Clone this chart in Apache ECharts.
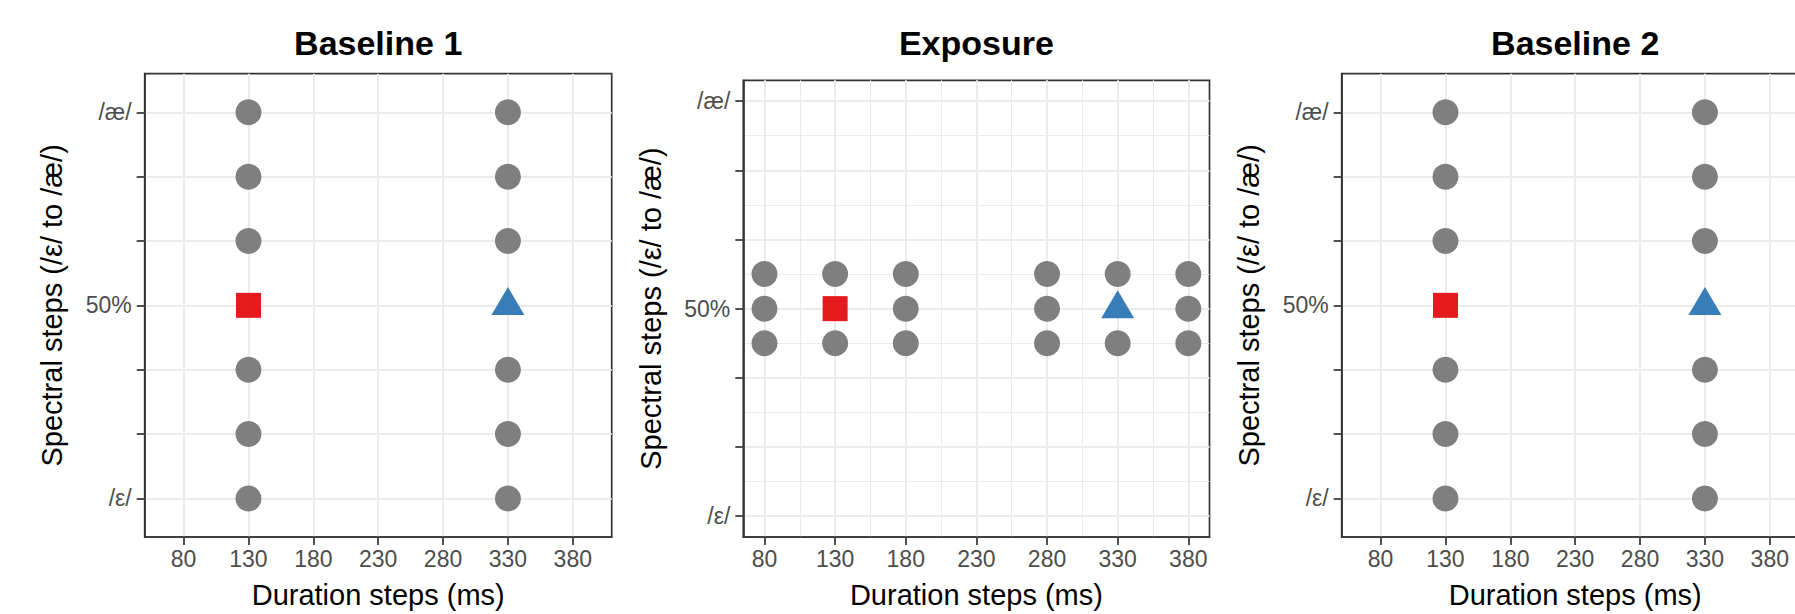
<!DOCTYPE html>
<html>
<head>
<meta charset="utf-8">
<script src="https://cdn.jsdelivr.net/npm/echarts@6/dist/echarts.min.js"></script>
<style>
  html, body { margin: 0; padding: 0; background: #fff; overflow: hidden; }
  /* 画布比窗口略宽，右侧面板被窗口裁切 */
  #chart { width: 1820px; height: 614px; }
</style>
</head>
<body>
<div id="chart"></div>
<script>
// 数据
const panelTitles = ['Baseline 1', 'Exposure', 'Baseline 2']
const durationTicks = [80, 130, 180, 230, 280, 330, 380]
const durationMinorTicks = [105, 155, 205, 255, 305, 355]
const spectralTicks = [1, 2, 3, 4, 5, 6, 7]
const spectralMinorTicks = [1.5, 2.5, 3.5, 4.5, 5.5, 6.5]
const spectralLabelSteps = [1, 4, 7]
const spectralLabelNames = ['/ε/', '50%', '/æ/']

const baseline1Grey = [
  [130, 1], [130, 2], [130, 3], [130, 5], [130, 6], [130, 7],
  [330, 1], [330, 2], [330, 3], [330, 5], [330, 6], [330, 7]
]
const exposureGrey = [
  [80, 3.5], [80, 4], [80, 4.5],
  [130, 3.5], [130, 4.5],
  [180, 3.5], [180, 4], [180, 4.5],
  [280, 3.5], [280, 4], [280, 4.5],
  [330, 3.5], [330, 4.5],
  [380, 3.5], [380, 4], [380, 4.5]
]
const baseline2Grey = [
  [130, 1], [130, 2], [130, 3], [130, 5], [130, 6], [130, 7],
  [330, 1], [330, 2], [330, 3], [330, 5], [330, 6], [330, 7]
]
const shortAnchor = [[130, 4]]
const longAnchor = [[330, 4]]

const greyPoints = [baseline1Grey, exposureGrey, baseline2Grey]

const FONT = '"Liberation Sans", Arial, Helvetica, sans-serif'
const BORDER = '#333333'
const GRID_MAJOR = '#EBEBEB'

// 面板位置
const grids = [
  { left: 144.7, top: 73.7, width: 467, height: 467 },
  { left: 743.3, top: 80.3, width: 466.2, height: 460.7 },
  { left: 1341.7, top: 73.7, width: 467, height: 467 }
]
const xRanges = [[50, 410], [65, 395], [50, 410]]
const yRanges = [[0.4, 7.6], [0.7, 7.3], [0.4, 7.6]]

const chart = echarts.init(document.getElementById('chart'), null, { renderer: 'svg' })

const xAxes = []
const yAxes = []
const series = []
const titles = []

grids.forEach((g, i) => {
  titles.push({
    text: panelTitles[i],
    left: g.left + g.width / 2,
    top: 43,
    padding: 0,
    textAlign: 'center',
    textVerticalAlign: 'middle',
    textStyle: { fontFamily: FONT, fontSize: 34, fontWeight: 'bold', color: '#000' }
  })
  xAxes.push({
    type: 'value',
    gridIndex: i,
    position: 'bottom',
    min: xRanges[i][0],
    max: xRanges[i][1],
    name: 'Duration steps (ms)',
    nameLocation: 'middle',
    nameGap: 43,
    nameTextStyle: { fontFamily: FONT, fontSize: 29, color: '#000' },
    axisLine: { show: true, onZero: false, lineStyle: { color: BORDER, width: 1.7 } },
    axisTick: { show: true, length: 8, customValues: durationTicks, lineStyle: { color: BORDER, width: 1.7 } },
    axisLabel: { customValues: durationTicks, margin: 10, fontFamily: FONT, fontSize: 23, color: '#4D4D4D' },
    splitLine: { show: true, lineStyle: { color: GRID_MAJOR, width: 2 } }
  })
  yAxes.push({
    type: 'value',
    gridIndex: i,
    position: 'left',
    min: yRanges[i][0],
    max: yRanges[i][1],
    name: 'Spectral steps (/ε/ to /æ/)',
    nameLocation: 'middle',
    nameGap: 78,
    nameTextStyle: { fontFamily: FONT, fontSize: 29, color: '#000' },
    axisLine: { show: true, onZero: false, lineStyle: { color: BORDER, width: 1.7 } },
    axisTick: { show: true, length: 8, customValues: spectralTicks, lineStyle: { color: BORDER, width: 1.7 } },
    axisLabel: {
      customValues: spectralLabelSteps,
      margin: 13,
      fontFamily: FONT,
      fontSize: 23,
      color: '#4D4D4D',
      formatter: (v) => spectralLabelNames[spectralLabelSteps.indexOf(v)] || ''
    },
    splitLine: { show: true, lineStyle: { color: GRID_MAJOR, width: 2 } }
  })
})

// Exposure 面板的次网格线
xAxes.push({
  type: 'value', gridIndex: 1, position: 'top',
  min: xRanges[1][0], max: xRanges[1][1],
  axisLine: { show: false }, axisLabel: { show: false },
  axisTick: { show: false, customValues: durationMinorTicks },
  splitLine: { show: true, lineStyle: { color: GRID_MAJOR, width: 1 } }
})
yAxes.push({
  type: 'value', gridIndex: 1, position: 'right',
  min: yRanges[1][0], max: yRanges[1][1],
  axisLine: { show: false }, axisLabel: { show: false },
  axisTick: { show: false, customValues: spectralMinorTicks },
  splitLine: { show: true, lineStyle: { color: GRID_MAJOR, width: 1 } }
})

grids.forEach((g, i) => {
  series.push({
    type: 'scatter', xAxisIndex: i, yAxisIndex: i,
    symbol: 'circle', symbolSize: 26,
    itemStyle: { color: '#7F7F7F', opacity: 1 },
    data: greyPoints[i], z: 3
  })
  series.push({
    type: 'scatter', xAxisIndex: i, yAxisIndex: i,
    symbol: 'rect', symbolSize: 25,
    itemStyle: { color: '#E41A1C', opacity: 1 },
    data: shortAnchor, z: 4
  })
  series.push({
    type: 'scatter', xAxisIndex: i, yAxisIndex: i,
    symbol: 'triangle', symbolSize: [33, 28], symbolOffset: [0, -4.3],
    itemStyle: { color: '#377EB8', opacity: 1 },
    data: longAnchor, z: 4
  })
})

chart.setOption({
  animation: false,
  backgroundColor: '#fff',
  title: titles,
  grid: grids.map(g => Object.assign({
    show: true, borderColor: BORDER, borderWidth: 1.7, backgroundColor: '#fff', containLabel: false
  }, g)),
  xAxis: xAxes,
  yAxis: yAxes,
  series: series
})
</script>
</body>
</html>
